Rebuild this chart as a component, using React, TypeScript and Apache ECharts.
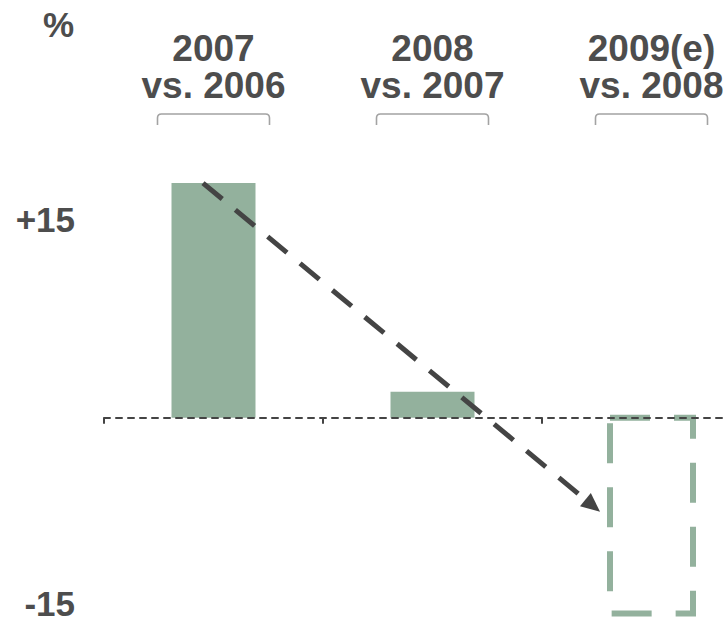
import React, { useEffect, useRef } from "react";
import * as echarts from "echarts";

const categories = ["2007\nvs. 2006", "2008\nvs. 2007", "2009(e)\nvs. 2008"];
const actualValues: (number | null)[] = [18, 2, null];
const estimateValues: (number | null)[] = [null, null, -15];
const yTickLabels: Record<string, string> = { "15": "{p|+15}", "-15": "{n|-15}" };
// arrow annotation: [category position (index units), value]
const arrowFrom = [-0.048, 18];
const arrowTo = [1.765, -7.2];

const FONT = "'Liberation Sans', Arial, Helvetica, sans-serif";
const TEXT = "#4d4d4d";
const GREEN = "#93b19d";
const DARK = "#444444";

export default function App() {
  const ref = useRef<HTMLDivElement>(null);
  useEffect(() => {
    document.body.style.margin = "0";
    const chart = echarts.init(ref.current!, undefined, { renderer: "svg" });
    chart.setOption({
      animation: false,
      title: {
        text: "%",
        left: 38,
        top: 2,
        textStyle: { fontFamily: FONT, fontWeight: "bold", fontSize: 35, color: TEXT },
      },
      grid: {
        left: 104,
        width: 657,
        top: 157,
        bottom: 7.5,
        containLabel: false,
        outerBoundsMode: "none",
      },
      xAxis: [
        {
          type: "category",
          data: categories,
          position: "bottom",
          z: 5,
          axisLine: {
            show: true,
            onZero: true,
            lineStyle: { color: DARK, width: 2, type: [6, 6] },
          },
          axisTick: { show: true, length: 6, lineStyle: { color: DARK, width: 2 } },
          axisLabel: { show: false },
          splitLine: { show: false },
        },
        {
          type: "category",
          data: categories,
          position: "top",
          axisLine: { show: false, onZero: false },
          axisTick: { show: false },
          splitLine: { show: false },
          axisLabel: {
            interval: 0,
            margin: 53,
            fontFamily: FONT,
            fontWeight: "bold",
            fontSize: 37,
            lineHeight: 37,
            color: TEXT,
          },
        },
      ],
      yAxis: {
        type: "value",
        min: -15,
        max: 20,
        interval: 5,
        axisLine: { show: false },
        axisTick: { show: false },
        splitLine: { show: false },
        axisLabel: {
          margin: 29,
          fontFamily: FONT,
          fontWeight: "bold",
          fontSize: 35,
          color: TEXT,
          verticalAlign: "bottom",
          formatter: (v: number) => yTickLabels[String(v)] ?? "",
          rich: {
            p: { fontFamily: FONT, fontWeight: "bold", fontSize: 35, color: TEXT, lineHeight: 6 },
            n: { fontFamily: FONT, fontWeight: "bold", fontSize: 35, color: TEXT, lineHeight: 21 },
          },
        },
      },
      series: [
        {
          type: "bar",
          data: actualValues,
          barWidth: 84,
          itemStyle: { color: GREEN },
          z: 2,
        },
        {
          type: "custom",
          clip: false,
          z: 2,
          data: estimateValues.map((v, i) => (v == null ? null : [i, v])).filter((d) => d),
          renderItem: (params: any, api: any) => {
            const p0 = api.coord([api.value(0), 0]);
            const p1 = api.coord([api.value(0), api.value(1)]);
            const w = 83;
            return {
              type: "rect",
              shape: { x: p0[0] - w / 2, y: p0[1], width: w, height: p1[1] - p0[1] },
              style: { fill: "none", stroke: GREEN, lineWidth: 6, lineDash: [40, 24] },
            };
          },
        },
        {
          type: "custom",
          clip: false,
          z: 3,
          data: categories.map((_, i) => [i, 0]),
          renderItem: (params: any, api: any) => {
            const x = api.coord([api.value(0), 0])[0];
            const y = params.coordSys.y - 43;
            const h = 56;
            const d = `M${x - h} ${y + 11} L${x - h} ${y + 4} Q${x - h} ${y} ${x - h + 4} ${y} L${x + h - 4} ${y} Q${x + h} ${y} ${x + h} ${y + 4} L${x + h} ${y + 11}`;
            return {
              type: "path",
              shape: { pathData: d },
              style: { fill: "none", stroke: "#a3a3a3", lineWidth: 1.6 },
            };
          },
        },
        {
          type: "custom",
          clip: false,
          z: 4,
          data: [[0, 0]],
          renderItem: (params: any, api: any) => {
            const cs = params.coordSys;
            const band = cs.width / categories.length;
            const x1 = cs.x + (arrowFrom[0] + 0.5) * band;
            const y1 = api.coord([0, arrowFrom[1]])[1];
            const x2 = cs.x + (arrowTo[0] + 0.5) * band;
            const y2 = api.coord([0, arrowTo[1]])[1];
            const dx = x2 - x1;
            const dy = y2 - y1;
            const len = Math.sqrt(dx * dx + dy * dy);
            const ux = dx / len;
            const uy = dy / len;
            const headLen = 19;
            const headHalf = 8.5;
            const bx = x2 - ux * headLen;
            const by = y2 - uy * headLen;
            return {
              type: "group",
              children: [
                {
                  type: "line",
                  shape: { x1, y1, x2: bx + ux * 2, y2: by + uy * 2 },
                  style: { stroke: DARK, lineWidth: 5, lineDash: [25, 17], lineCap: "butt" },
                },
                {
                  type: "polygon",
                  shape: {
                    points: [
                      [x2, y2],
                      [bx - uy * headHalf, by + ux * headHalf],
                      [bx + uy * headHalf, by - ux * headHalf],
                    ],
                  },
                  style: { fill: DARK },
                },
              ],
            };
          },
        },
      ],
    });
    return () => chart.dispose();
  }, []);
  return <div ref={ref} style={{ width: 723, height: 621 }} />;
}
